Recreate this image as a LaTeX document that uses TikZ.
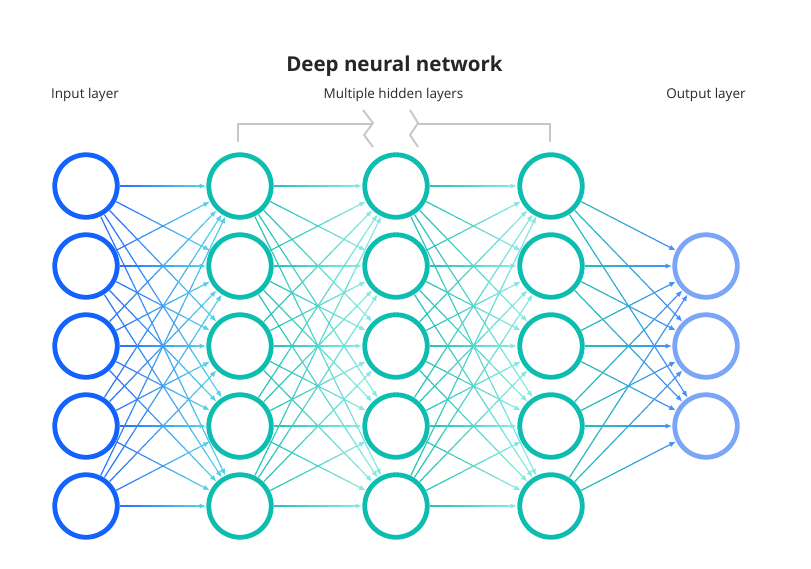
\documentclass[tikz,border=0pt]{standalone}
\usepackage{fontspec}
\setmainfont{Open Sans}
\usetikzlibrary{calc,arrows.meta}
\definecolor{cin}{HTML}{1262FE}
\definecolor{chid}{HTML}{0DBDB0}
\definecolor{cout}{HTML}{7BA6F8}
\definecolor{aStart}{HTML}{2A6CFF}
\definecolor{aEnd}{HTML}{55D6E6}
\definecolor{bStart}{HTML}{22C2B4}
\definecolor{bEnd}{HTML}{8CEBE4}
\definecolor{cStart}{HTML}{22C2B4}
\definecolor{cEnd}{HTML}{4A8CFF}
\definecolor{brk}{HTML}{C6C6C6}
\definecolor{ttl}{HTML}{262626}
\definecolor{lbl}{HTML}{2A2A2A}
\newcommand\gradconn[4]{%
  \path ($(#1)!34pt!(#2)$) coordinate (cs) ($(#2)!34pt!(#1)$) coordinate (ce);
  \foreach \k in {1,...,8}{%
    \pgfmathsetmacro\ta{(\k-1)/8}%
    \pgfmathsetmacro\tb{\k/8}%
    \pgfmathtruncatemacro\pc{100-(\k-0.5)*100/8}%
    \ifnum\k=8
      \draw[conn,#3!\pc!#4,-{Latex[length=6.5pt,width=5.5pt]}] ($(cs)!\ta!(ce)$) -- (ce);
    \else
      \draw[conn,#3!\pc!#4] ($(cs)!\ta!(ce)$) -- ($(cs)!\tb!(ce)$);
    \fi
  }%
}
\begin{document}
\begin{tikzpicture}[x=1pt,y=-1pt,
  neuron/.style={circle,draw,line width=4.8pt,minimum size=62.5pt,inner sep=0pt},
  conn/.style={line width=1.2pt},
  lbltext/.style={text=lbl,font=\fontsize{13.5}{15}\selectfont,anchor=base,inner sep=0pt},
  bracket/.style={draw=brk,line width=1.8pt}]
\useasboundingbox[fill=white] (0,0) rectangle (811,568);
% nodes
\foreach \i/\y in {1/186,2/266,3/346,4/426,5/506}{
  \node[neuron,draw=cin] (i\i) at (86,\y) {};
  \node[neuron,draw=chid] (p\i) at (240,\y) {};
  \node[neuron,draw=chid] (q\i) at (396,\y) {};
  \node[neuron,draw=chid] (r\i) at (551,\y) {};
}
\foreach \i/\y in {1/266,2/346,3/426}{
  \node[neuron,draw=cout] (o\i) at (706,\y) {};
}
% connectors
\foreach \a in {1,...,5}{
  \foreach \b in {1,...,5}{
    \gradconn{i\a}{p\b}{aStart}{aEnd}
    \gradconn{p\a}{q\b}{bStart}{bEnd}
    \gradconn{q\a}{r\b}{bStart}{bEnd}
  }
  \foreach \b in {1,...,3}{
    \gradconn{r\a}{o\b}{cStart}{cEnd}
  }
}
% texts
\node[text=ttl,font=\fontsize{20.5}{24}\selectfont\bfseries,anchor=base,inner sep=0pt] (title) at (394.5,71) {Deep neural network};
\node[lbltext] (inl) at (85,98) {Input layer};
\node[lbltext] (hidl) at (393.5,98) {Multiple hidden layers};
\node[lbltext] (outl) at (706,98) {Output layer};
% bracket
\coordinate (bl) at (238,142);
\coordinate (br) at (550,142);
\draw[bracket,line join=miter] (bl) -- (238,124) -- (373,124);
\draw[bracket] (363,110) -- (373,123) -- (364,135) -- (373,147);
\draw[bracket] (410,110) -- (418,123) -- (410,135) -- (418,147);
\draw[bracket,line join=miter] (418,124) -- (550,124) -- (br);
\end{tikzpicture}
\end{document}
